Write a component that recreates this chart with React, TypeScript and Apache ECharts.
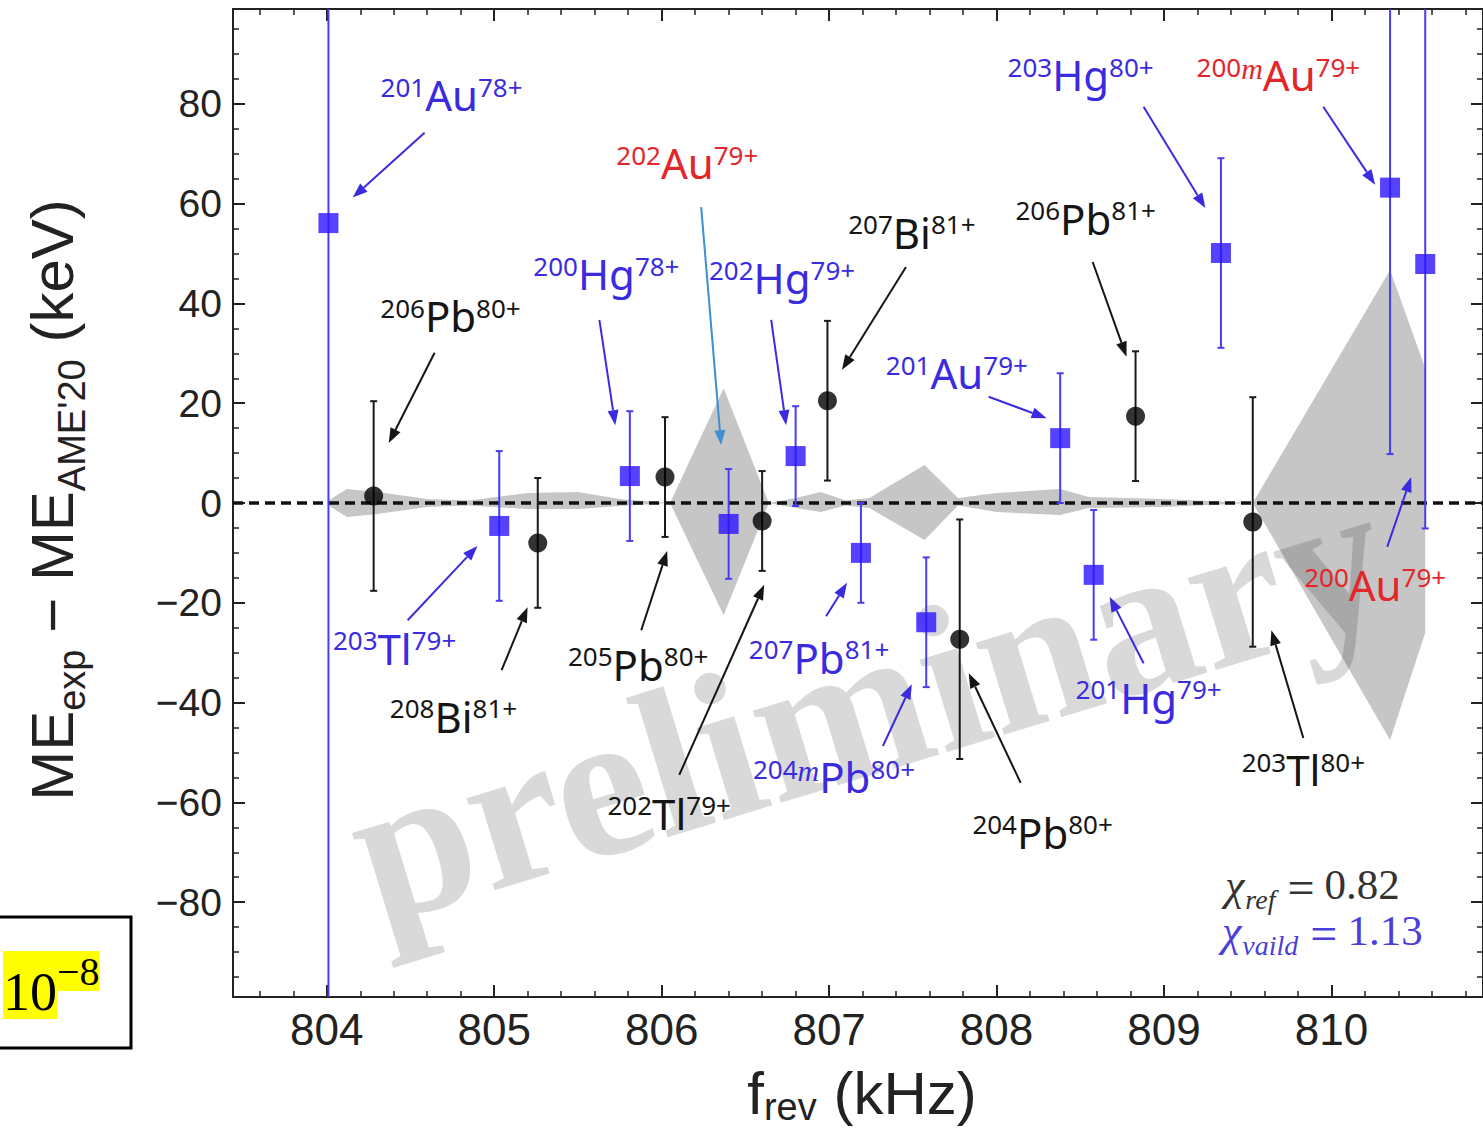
import React, { useEffect, useRef } from "react";
import * as echarts from "echarts";

// ---- axis ranges ----
const X_MIN = 803.44;
const X_MAX = 810.905;
const Y_MIN = -99;
const Y_MAX = 99;

// ---- validation nuclides (blue squares) ----
const validNames = ["201Au78+", "203Tl79+", "200Hg78+", "202Au79+", "202Hg79+", "207Pb81+", "204mPb80+", "201Au79+", "201Hg79+", "203Hg80+", "200mAu79+", "200Au79+"];
const validFreq = [804.01, 805.03, 805.81, 806.4, 806.8, 807.19, 807.58, 808.38, 808.58, 809.34, 810.35, 810.56];
const validDiff = [56.1, -4.6, 5.4, -4.2, 9.4, -10.0, -23.9, 13.0, -14.4, 50.1, 63.2, 47.9];
const validErr = [200, 15, 13, 11, 10, 10, 13, 13, 13, 19, 53.4, 53];

// ---- reference nuclides (black circles) ----
const refNames = ["206Pb80+", "208Bi81+", "205Pb80+", "202Tl79+", "207Bi81+", "204Pb80+", "206Pb81+", "203Tl80+"];
const refFreq = [804.28, 805.26, 806.02, 806.6, 806.99, 807.78, 808.83, 809.53];
const refDiff = [1.4, -8.0, 5.2, -3.6, 20.5, -27.3, 17.4, -3.8];
const refErr = [19, 13, 12, 10, 16, 24, 13, 25];

// ---- calibration uncertainty band ----
const bandFreq = [804.01, 804.12, 804.3, 804.6, 804.85, 805.2, 805.5, 805.75, 806.05, 806.37, 806.64, 806.8, 806.95, 807.1, 807.24, 807.57, 807.77, 808.0, 808.38, 808.55, 809.0, 809.53, 810.35, 810.56];
const bandUpper = [0.5, 2.8, 2.2, 0.8, 0.5, 2.0, 2.2, 0.8, 0, 23, 0, 1.0, 2.2, 0.5, 1.0, 7.6, 1.0, 2.0, 2.8, 1.2, 0.8, 0, 46.7, 27];
const bandLower = [-0.5, -2.8, -2.2, -0.8, -0.5, -1.2, -1.2, -0.6, 0, -22.5, 0, -1.0, -1.8, -0.5, -1.0, -7.4, -0.5, -1.8, -2.4, -1.0, -0.8, 0, -47.5, -26];

// ---- annotations: mass, isomer, element, charge, text colour, label (x,y), arrow from (x,y), arrow to (x,y), arrow colour ----
const annotations: [string, string, string, string, string, number, number, number, number, number, number, string][] = [
  ["201", "", "Au", "78+", "blue", 804.745, 81.8, 804.584, 74.2, 804.155, 61.2, "blue"],
  ["202", "", "Au", "79+", "red", 806.153, 68.2, 806.236, 59.3, 806.355, 11.6, "sky"],
  ["206", "", "Pb", "80+", "black", 804.739, 37.5, 804.644, 30.1, 804.37, 12.0, "black"],
  ["200", "", "Hg", "78+", "blue", 805.67, 45.9, 805.628, 36.7, 805.723, 15.6, "blue"],
  ["202", "", "Hg", "79+", "blue", 806.719, 45.1, 806.654, 36.7, 806.743, 15.6, "blue"],
  ["207", "", "Bi", "81+", "black", 807.494, 54.3, 807.459, 47.3, 807.077, 26.7, "black"],
  ["206", "", "Pb", "81+", "black", 808.532, 57.1, 808.574, 48.3, 808.776, 29.3, "black"],
  ["203", "", "Hg", "80+", "blue", 808.502, 85.8, 808.878, 79.4, 809.247, 59.1, "blue"],
  ["200", "m", "Au", "79+", "red", 809.683, 85.8, 809.951, 79.4, 810.261, 63.8, "blue"],
  ["201", "", "Au", "79+", "blue", 807.763, 26.1, 807.953, 21.3, 808.299, 17.0, "blue"],
  ["203", "", "Tl", "79+", "blue", 804.405, -29.1, 804.483, -23.5, 804.9, -8.6, "blue"],
  ["208", "", "Bi", "81+", "black", 804.757, -42.7, 805.044, -33.5, 805.199, -20.9, "black"],
  ["205", "", "Pb", "80+", "black", 805.86, -32.3, 805.878, -25.5, 806.033, -9.6, "black"],
  ["202", "", "Tl", "79+", "black", 806.045, -62.2, 806.105, -54.5, 806.612, -16.4, "black"],
  ["207", "", "Pb", "81+", "blue", 806.94, -30.9, 806.982, -22.7, 807.107, -16.0, "blue"],
  ["204", "m", "Pb", "80+", "blue", 807.029, -54.9, 807.321, -48.7, 807.494, -36.3, "blue"],
  ["204", "", "Pb", "80+", "black", 808.275, -66.0, 808.144, -56.1, 807.834, -34.1, "black"],
  ["201", "", "Hg", "79+", "blue", 808.908, -38.9, 808.878, -32.1, 808.675, -18.8, "blue"],
  ["203", "", "Tl", "80+", "black", 809.832, -53.5, 809.832, -47.1, 809.641, -25.5, "black"],
  ["200", "", "Au", "79+", "red", 810.261, -16.4, 810.333, -8.8, 810.476, 5.2, "blue"],
];

const COLORS: Record<string, string> = {
  blue: "#3b2bdf",
  red: "#e3262b",
  black: "#151515",
  sky: "#3f8fd0",
};
const SQUARE = "#2a14ff";
const BLUE_BAR = "#4a3cf2";
const BLACK_BAR = "#1a1a1a";
const BAND = "#c6c6c6";

const labelRich = (c: string) => ({
  s: { fontFamily: "Noto Sans", fontSize: 26, fill: c, color: c, lineHeight: 27, verticalAlign: "top" },
  i: { fontFamily: "Liberation Serif", fontStyle: "italic", fontSize: 30, fill: c, color: c, lineHeight: 27, verticalAlign: "top" },
  b: { fontFamily: "Noto Sans", fontSize: 42, fill: c, color: c, lineHeight: 42, verticalAlign: "top" },
});

const axisCommon = {
  type: "value",
  axisLine: { show: true, onZero: false, lineStyle: { color: "#222", width: 2 } },
  axisTick: { show: true, inside: true, length: 12, lineStyle: { color: "#222", width: 2 } },
  minorTick: { show: true, length: 6, lineStyle: { color: "#222", width: 1.5 } },
  splitLine: { show: false },
  minorSplitLine: { show: false },
};

function errorBarRender(color: string) {
  return (params: any, api: any) => {
    const x = api.value(0);
    const y = api.value(1);
    const e = api.value(2);
    const hi = Math.min(y + e, Y_MAX);
    const lo = Math.max(y - e, Y_MIN);
    const pHi = api.coord([x, hi]);
    const pLo = api.coord([x, lo]);
    const children: any[] = [
      { type: "line", shape: { x1: pHi[0], y1: pHi[1], x2: pLo[0], y2: pLo[1] }, style: { stroke: color, lineWidth: 2 } },
    ];
    const cw = 3.5;
    if (y + e < Y_MAX) children.push({ type: "line", shape: { x1: pHi[0] - cw, y1: pHi[1], x2: pHi[0] + cw, y2: pHi[1] }, style: { stroke: color, lineWidth: 2 } });
    if (y - e > Y_MIN) children.push({ type: "line", shape: { x1: pLo[0] - cw, y1: pLo[1], x2: pLo[0] + cw, y2: pLo[1] }, style: { stroke: color, lineWidth: 2 } });
    return { type: "group", children };
  };
}

export default function App() {
  const ref = useRef<HTMLDivElement>(null);

  useEffect(() => {
    if (!ref.current) return;
    const chart = echarts.init(ref.current, null, { renderer: "svg" });

    const minus = (v: number) => (v < 0 ? "\u2212" + Math.abs(v) : String(v));

    const option: any = {
      animation: false,
      backgroundColor: "#ffffff",
      grid: { left: 233, top: 9, width: 1252, height: 988, show: false },
      xAxis: [
        {
          ...axisCommon,
          position: "bottom",
          min: X_MIN,
          max: X_MAX,
          splitNumber: 7,
          minorTick: { ...axisCommon.minorTick, splitNumber: 5 },
          axisLabel: {
            show: true,
            fontSize: 44,
            color: "#222",
            fontFamily: "Liberation Sans",
            margin: 10,
            showMinLabel: false,
            showMaxLabel: false,
          },
        },
        {
          ...axisCommon,
          position: "top",
          min: X_MIN,
          max: X_MAX,
          splitNumber: 7,
          minorTick: { ...axisCommon.minorTick, splitNumber: 5 },
          axisLabel: { show: false },
        },
      ],
      yAxis: [
        {
          ...axisCommon,
          position: "left",
          min: Y_MIN,
          max: Y_MAX,
          splitNumber: 10,
          minorTick: { ...axisCommon.minorTick, splitNumber: 4 },
          axisLabel: {
            show: true,
            fontSize: 39,
            color: "#222",
            fontFamily: "Liberation Sans",
            margin: 11,
            showMinLabel: false,
            showMaxLabel: false,
            formatter: minus,
          },
        },
        {
          ...axisCommon,
          position: "right",
          min: Y_MIN,
          max: Y_MAX,
          splitNumber: 10,
          minorTick: { ...axisCommon.minorTick, splitNumber: 4 },
          axisLabel: { show: false },
        },
      ],
      series: [
        {
          type: "custom",
          name: "band",
          z: 1,
          silent: true,
          clip: false,
          data: [[bandFreq[0], 0]],
          renderItem: (params: any, api: any) => {
            const pts: number[][] = [];
            for (let i = 0; i < bandFreq.length; i++) pts.push(api.coord([bandFreq[i], bandUpper[i]]));
            for (let i = bandFreq.length - 1; i >= 0; i--) pts.push(api.coord([bandFreq[i], bandLower[i]]));
            return { type: "polygon", shape: { points: pts }, style: { fill: BAND } };
          },
        },
        {
          type: "line",
          name: "zero",
          z: 3,
          silent: true,
          showSymbol: false,
          symbol: "none",
          data: [
            [X_MIN, 0],
            [X_MAX, 0],
          ],
          lineStyle: { color: "#111", width: 3.5, type: [10, 6] },
        },
        {
          type: "custom",
          name: "validErr",
          z: 4,
          silent: true,
          clip: false,
          data: validFreq.map((x, i) => [x, validDiff[i], validErr[i]]),
          renderItem: errorBarRender(BLUE_BAR),
        },
        {
          type: "custom",
          name: "refErr",
          z: 4,
          silent: true,
          clip: false,
          data: refFreq.map((x, i) => [x, refDiff[i], refErr[i]]),
          renderItem: errorBarRender(BLACK_BAR),
        },
        {
          type: "scatter",
          name: "valid",
          z: 5,
          symbol: "rect",
          symbolSize: 20,
          itemStyle: { color: SQUARE },
          data: validFreq.map((x, i) => ({ name: validNames[i], value: [x, validDiff[i]] })),
        },
        {
          type: "scatter",
          name: "reference",
          z: 5,
          symbol: "circle",
          symbolSize: 19,
          itemStyle: { color: "#000" },
          data: refFreq.map((x, i) => ({ name: refNames[i], value: [x, refDiff[i]] })),
        },
        {
          type: "custom",
          name: "labels",
          z: 6,
          silent: true,
          clip: false,
          data: annotations.map((a) => [a[5], a[6]]),
          renderItem: (params: any, api: any) => {
            const a = annotations[params.dataIndex];
            const [mass, iso, el, ch, tc, lx, ly, x1, y1, x2, y2, ac] = a;
            const pL = api.coord([lx, ly]);
            const p1 = api.coord([x1, y1]);
            const p2 = api.coord([x2, y2]);
            const dx = p2[0] - p1[0];
            const dy = p2[1] - p1[1];
            const len = Math.hypot(dx, dy) || 1;
            const ux = dx / len;
            const uy = dy / len;
            const hl = 15;
            const hw = 5.5;
            const bx = p2[0] - ux * hl;
            const by = p2[1] - uy * hl;
            const col = COLORS[ac];
            const tcol = COLORS[tc];
            const text = `{s|${mass}}` + (iso ? `{i|${iso}}` : "") + `{b|${el}}{s|${ch}}`;
            return {
              type: "group",
              children: [
                { type: "line", shape: { x1: p1[0], y1: p1[1], x2: bx, y2: by }, style: { stroke: col, lineWidth: 2 } },
                {
                  type: "polygon",
                  shape: { points: [[p2[0], p2[1]], [bx - uy * hw, by + ux * hw], [bx + uy * hw, by - ux * hw]] },
                  style: { fill: col },
                },
                {
                  type: "text",
                  x: pL[0],
                  y: pL[1],
                  style: { text, rich: labelRich(tcol), fill: tcol, align: "center", verticalAlign: "middle" },
                },
              ],
            };
          },
        },
      ],
      graphic: {
        elements: [
          {
            type: "text",
            z: 2,
            silent: true,
            x: 868,
            y: 702,
            rotation: (17 * Math.PI) / 180,
            style: {
              text: "preliminary",
              fontFamily: "Liberation Serif",
              fontWeight: "bold",
              fontSize: 210,
              fill: "rgba(0,0,0,0.15)",
              align: "center",
              verticalAlign: "middle",
            },
          },
          {
            type: "text",
            z: 10,
            x: 52,
            y: 500,
            rotation: Math.PI / 2,
            style: {
              text: "{m|ME}{s|exp}{m| \u2212 ME}{s|AME'20}{m| (keV)}",
              align: "center",
              verticalAlign: "middle",
              fill: "#222",
              rich: {
                m: { fontFamily: "Liberation Sans", fontSize: 60, lineHeight: 60, verticalAlign: "top", fill: "#222" },
                s: { fontFamily: "Liberation Sans", fontSize: 38, lineHeight: 38, padding: [31, 0, 0, 0], verticalAlign: "top", fill: "#222" },
              },
            },
          },
          {
            type: "text",
            z: 10,
            x: 862,
            y: 1093,
            style: {
              text: "{m|f}{s|rev}{m| (kHz)}",
              align: "center",
              verticalAlign: "middle",
              fill: "#222",
              rich: {
                m: { fontFamily: "Liberation Sans", fontSize: 60, lineHeight: 60, verticalAlign: "top", fill: "#222" },
                s: { fontFamily: "Liberation Sans", fontSize: 38, lineHeight: 38, padding: [25, 0, 0, 0], verticalAlign: "top", fill: "#222" },
              },
            },
          },
          {
            type: "text",
            z: 10,
            x: 1225,
            y: 885,
            style: {
              text: "{c|\u03c7}{r|ref}{q|=}{e|0.82}",
              align: "left",
              verticalAlign: "middle",
              fill: "#333",
              rich: {
                c: { fontFamily: "Liberation Serif", fontStyle: "italic", fontSize: 44, lineHeight: 44, verticalAlign: "top", fill: "#333" },
                r: { fontFamily: "Liberation Serif", fontStyle: "italic", fontSize: 28, lineHeight: 28, padding: [22, 0, 0, 1], verticalAlign: "top", fill: "#333" },
                q: { fontFamily: "Liberation Serif", fontSize: 48, lineHeight: 44, padding: [0, 10, 0, 12], verticalAlign: "top", fill: "#333" },
                e: { fontFamily: "Liberation Serif", fontSize: 43, lineHeight: 44, verticalAlign: "top", fill: "#333" },
              },
            },
          },
          {
            type: "text",
            z: 10,
            x: 1222,
            y: 931,
            style: {
              text: "{c|\u03c7}{r|vaild}{q|=}{e|1.13}",
              align: "left",
              verticalAlign: "middle",
              fill: "#4a3fd8",
              rich: {
                c: { fontFamily: "Liberation Serif", fontStyle: "italic", fontSize: 44, lineHeight: 44, verticalAlign: "top", fill: "#4a3fd8" },
                r: { fontFamily: "Liberation Serif", fontStyle: "italic", fontSize: 28, lineHeight: 28, padding: [22, 0, 0, 1], verticalAlign: "top", fill: "#4a3fd8" },
                q: { fontFamily: "Liberation Serif", fontSize: 48, lineHeight: 44, padding: [0, 10, 0, 12], verticalAlign: "top", fill: "#4a3fd8" },
                e: { fontFamily: "Liberation Serif", fontSize: 43, lineHeight: 44, verticalAlign: "top", fill: "#4a3fd8" },
              },
            },
          },
          {
            type: "rect",
            z: 10,
            shape: { x: -4, y: 917, width: 135, height: 131 },
            style: { fill: "#ffffff", stroke: "#000000", lineWidth: 3 },
          },
          {
            type: "text",
            z: 11,
            x: 3,
            y: 980,
            style: {
              text: "{a|10}{b|\u22128}",
              align: "left",
              verticalAlign: "middle",
              fill: "#000",
              rich: {
                a: { fontFamily: "Liberation Serif", fontSize: 54, lineHeight: 58, padding: [14, 0, 0, 0], verticalAlign: "top", backgroundColor: "#ffff00", fill: "#000" },
                b: { fontFamily: "Liberation Serif", fontSize: 40, lineHeight: 32, verticalAlign: "top", backgroundColor: "#ffff00", fill: "#000" },
              },
            },
          },
        ],
      },
    };

    chart.setOption(option);
    return () => chart.dispose();
  }, []);

  return (
    <div
      ref={ref}
      style={{ position: "fixed", left: 0, top: 0, width: 1483, height: 1128, background: "#fff" }}
    />
  );
}
